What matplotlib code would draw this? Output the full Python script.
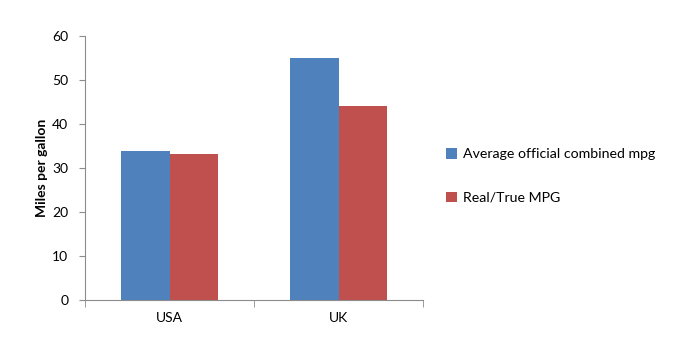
import matplotlib.pyplot as plt
import numpy as np

plt.rcParams['font.family'] = ['Lato', 'DejaVu Sans']

# data
countries = ['USA', 'UK']
official_mpg = [33.9, 55.1]
real_mpg = [33.2, 44.1]
series_names = ['Average official combined mpg', 'Real/True MPG']

blue, red = '#4f81bd', '#c0504d'
axis_gray = '#8c8c8c'

fig = plt.figure(figsize=(6.73, 3.54), dpi=100)
ax = fig.add_axes([85 / 673, 54 / 354, 338 / 673, 264 / 354])

x = np.arange(len(countries))
w = 0.287
ax.bar(x - w / 2, official_mpg, w, color=blue, label=series_names[0])
ax.bar(x + w / 2, real_mpg, w, color=red, label=series_names[1])

ax.set_xlim(-0.5, 1.5)
ax.set_ylim(0, 60)
ax.set_yticks(range(0, 61, 10))
ax.set_xticks(x)
ax.set_xticklabels(countries, fontsize=10)
ax.set_xticks([-0.5, 0.5, 1.5], minor=True)
ax.tick_params(axis='x', which='major', length=0, pad=9)
ax.tick_params(axis='x', which='minor', length=5, color=axis_gray, direction='out')
ax.tick_params(axis='y', length=4, color=axis_gray, labelsize=10, pad=8)

for s in ['top', 'right']:
    ax.spines[s].set_visible(False)
for s in ['left', 'bottom']:
    ax.spines[s].set_color(axis_gray)

ax.set_ylabel('Miles per gallon', fontsize=10, fontweight='bold', labelpad=3)

ax.legend(loc='center left', bbox_to_anchor=(1.03, 0.47), frameon=False,
          fontsize=10.2, handlelength=0.8, handleheight=0.8, handletextpad=0.4,
          labelspacing=2.2)

fig.savefig('out.png', dpi=100)
